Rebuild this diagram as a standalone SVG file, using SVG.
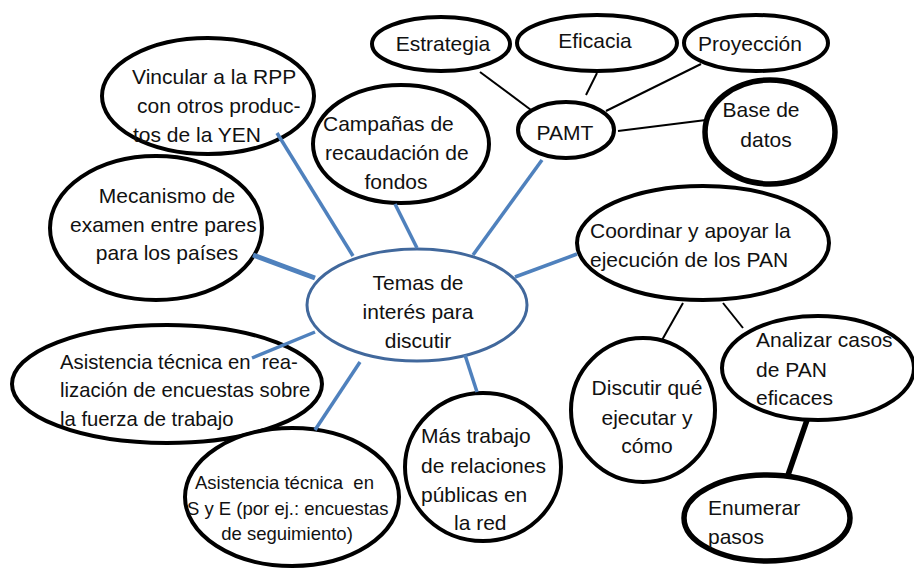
<svg xmlns="http://www.w3.org/2000/svg" width="914" height="568" viewBox="0 0 914 568">
<style>
.n{fill:#fff;stroke:#000;stroke-width:4}
.nk{fill:#fff;stroke:#000;stroke-width:5.5}
.c{fill:#fff;stroke:#41689c;stroke-width:3}
.b{stroke:#4f81bd;stroke-width:3.5;fill:none}
.bt{stroke-width:5}
.k{stroke:#000;stroke-width:2;fill:none}
.kt{stroke-width:5.5}
text{font-family:"Liberation Sans",Arial,sans-serif;font-size:21px;fill:#111}
.m{text-anchor:middle}
.s{font-size:18.5px}
.r{font-size:20.3px}
</style>
<rect width="914" height="568" fill="#fff"/>
<g id="n-center"><ellipse class="c" cx="417" cy="305" rx="110" ry="56"/>
<text class="m" x="418" y="290">Temas de</text><text class="m" x="418" y="319">interés para</text><text class="m" x="418" y="348">discutir</text></g>
<g id="n-vincular"><ellipse class="n" cx="208" cy="96" rx="106" ry="58"/></g>
<g id="n-campanas"><ellipse class="n" cx="401" cy="144" rx="88" ry="59"/></g>
<g id="n-mecanismo"><ellipse class="n" cx="156" cy="228" rx="106" ry="72"/></g>
<g id="n-rea"><ellipse class="n" cx="167" cy="384" rx="155" ry="59"/></g>
<g id="n-sye"><ellipse class="n" cx="292" cy="497" rx="107" ry="69"/></g>
<g id="n-mas"><ellipse class="n" cx="483" cy="467" rx="78" ry="74"/></g>
<g id="n-coordinar"><ellipse class="n" cx="703" cy="243" rx="126" ry="57"/></g>
<g id="n-discutir"><ellipse class="n" cx="643" cy="410" rx="72" ry="72"/></g>
<g id="n-analizar"><ellipse class="n" cx="818" cy="368" rx="96" ry="52"/></g>
<g id="n-enumerar"><ellipse class="nk" cx="767" cy="518" rx="83" ry="43"/></g>
<g id="n-pamt"><ellipse class="n" cx="566" cy="130" rx="48" ry="28"/></g>
<g id="n-estrategia"><ellipse class="n" cx="441" cy="44" rx="69" ry="27"/></g>
<g id="n-eficacia"><ellipse class="n" cx="597" cy="43" rx="80" ry="28"/></g>
<g id="n-proyeccion"><ellipse class="n" cx="756" cy="43" rx="72" ry="28"/></g>
<g id="n-base"><ellipse class="nk" cx="770" cy="132" rx="65" ry="52"/></g>
<g id="connectors">
<line class="b" x1="473" y1="255" x2="542" y2="160"/>
<line class="b" x1="515" y1="277" x2="577" y2="254"/>
<line class="b" x1="465" y1="355" x2="477" y2="392"/>
<line class="b" x1="360" y1="362" x2="315" y2="430"/>
<line class="b" x1="315" y1="332" x2="252" y2="358"/>
<line class="b bt" x1="315" y1="278" x2="253" y2="255"/>
<line class="b" x1="353" y1="256" x2="277" y2="133"/>
<line class="b" x1="417" y1="248" x2="395" y2="204"/>
<line class="k" x1="480" y1="72" x2="531" y2="110"/>
<line class="k" x1="597" y1="73" x2="586" y2="95"/>
<line class="k" x1="701" y1="64" x2="606" y2="111"/>
<line class="k" x1="618" y1="131" x2="706" y2="120"/>
<line class="k" x1="683" y1="303" x2="662" y2="340"/>
<line class="k" x1="723" y1="303" x2="743" y2="328"/>
<line class="k kt" x1="807" y1="420" x2="788" y2="475"/>
</g>
<g id="labels">
<text x="132" y="84">Vincular a la RPP</text><text x="137" y="113">con otros produc-</text><text x="133" y="142">tos de la YEN</text>
<text x="323" y="131">Campañas de</text><text x="325" y="160">recaudación de</text><text class="m" x="396" y="189">fondos</text>
<text class="m" x="167" y="203">Mecanismo de</text><text x="70" y="232">examen entre pares</text><text class="m" x="167" y="260">para los países</text>
<text class="r" x="60" y="369" xml:space="preserve">Asistencia técnica en  rea-</text><text class="r" x="60" y="397">lización de encuestas sobre</text><text class="r" x="60" y="426">la fuerza de trabajo</text>
<text class="s" x="195" y="489" xml:space="preserve">Asistencia técnica  en</text><text class="s" x="187" y="515">S y E (por ej.: encuestas</text><text class="s m" x="287" y="540">de seguimiento)</text>
<text x="421" y="443">Más trabajo</text><text x="421" y="473">de relaciones</text><text x="421" y="502">públicas en</text><text x="454" y="530">la red</text>
<text x="590" y="238">Coordinar y apoyar la</text><text x="590" y="267">ejecución de los PAN</text>
<text class="m" x="647" y="395">Discutir qué</text><text class="m" x="647" y="425">ejecutar y</text><text class="m" x="647" y="453">cómo</text>
<text x="756" y="347">Analizar casos</text><text x="756" y="377">de PAN</text><text x="756" y="405">eficaces</text>
<text x="708" y="515">Enumerar</text><text x="708" y="544">pasos</text>
<text class="m" x="565" y="140">PAMT</text>
<text class="m" x="443" y="51">Estrategia</text>
<text class="m" x="595" y="48">Eficacia</text>
<text class="m" x="750" y="51">Proyección</text>
<text class="m" x="761" y="117">Base de</text><text class="m" x="766" y="147">datos</text>
</g>
</svg>
